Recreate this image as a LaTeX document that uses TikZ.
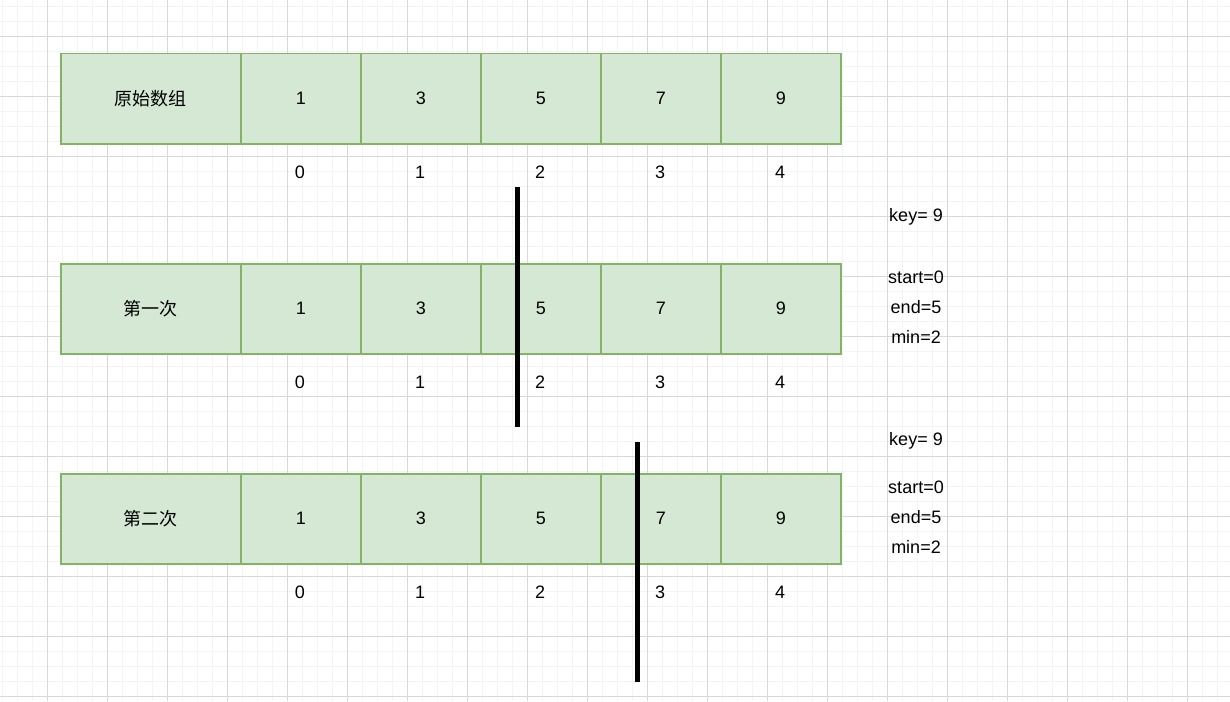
\documentclass[tikz,border=0pt]{standalone}
\usepackage{fontspec}
\setmainfont{Liberation Sans}
\newfontfamily\cjk{Noto Sans CJK SC}
\definecolor{gfill}{HTML}{D5E8D4}
\definecolor{gline}{HTML}{82B366}
\definecolor{minorgrid}{HTML}{F4F4F4}
\definecolor{majorgrid}{HTML}{D8D8D8}
\begin{document}
\begin{tikzpicture}[x=1pt,y=-1pt,
  cell/.style={draw=gline,fill=gfill,line width=1.5pt,minimum height=90pt,inner sep=0pt,anchor=north west,font=\fontsize{18pt}{20pt}\selectfont},
  lbl/.style={font=\fontsize{18pt}{20pt}\selectfont,inner sep=0pt},
  bar/.style={line width=5pt,black}]
\useasboundingbox (0,0) rectangle (1230,701);
\fill[white] (0,0) rectangle (1230,701);
% grid
\foreach \x in {2.5,17.5,...,1230} \draw[minorgrid,line width=1.5pt] (\x,0) -- (\x,701);
\foreach \y in {6.5,21.5,...,701} \draw[minorgrid,line width=1.5pt] (0,\y) -- (1230,\y);
\foreach \x in {47.5,107.5,...,1230} \draw[majorgrid,line width=1pt] (\x,0) -- (\x,701);
\foreach \y in {36.5,96.5,...,701} \draw[majorgrid,line width=1pt] (0,\y) -- (1230,\y);
% rows
\foreach \r/\y/\t in {a/53/原始数组,b/263/第一次,c/473/第二次}{
  \node[cell,minimum width=180pt] (\r0) at (60,\y) {\cjk\fontsize{18pt}{20pt}\selectfont \t};
  \node[cell,minimum width=120pt] (\r1) at (240,\y) {1};
  \node[cell,minimum width=120pt] (\r2) at (360,\y) {3};
  \node[cell,minimum width=120pt] (\r3) at (480,\y) {5};
  \node[cell,minimum width=120pt] (\r4) at (600,\y) {7};
  \node[cell,minimum width=120pt] (\r5) at (720,\y) {9};
  \foreach \i/\x in {0/300,1/420,2/540,3/660,4/780}
    \node[lbl] (\r i\i) at (\x,\y+119) {\i};
}
% right texts
\node[lbl] (k1) at (916,217) {key= 9};
\node[lbl] (s1) at (916,277) {start=0};
\node[lbl] (e1) at (916,307) {end=5};
\node[lbl] (m1) at (916,337) {min=2};
\node[lbl] (k2) at (916,441) {key= 9};
\node[lbl] (s2) at (916,487) {start=0};
\node[lbl] (e2) at (916,517) {end=5};
\node[lbl] (m2) at (916,547) {min=2};
% bars
\coordinate (p1) at (517,187);
\coordinate (q1) at (517,427);
\coordinate (p2) at (637.5,442);
\coordinate (q2) at (637.5,682);
\draw[bar] (p1) -- (q1);
\draw[bar] (p2) -- (q2);
\end{tikzpicture}
\end{document}
